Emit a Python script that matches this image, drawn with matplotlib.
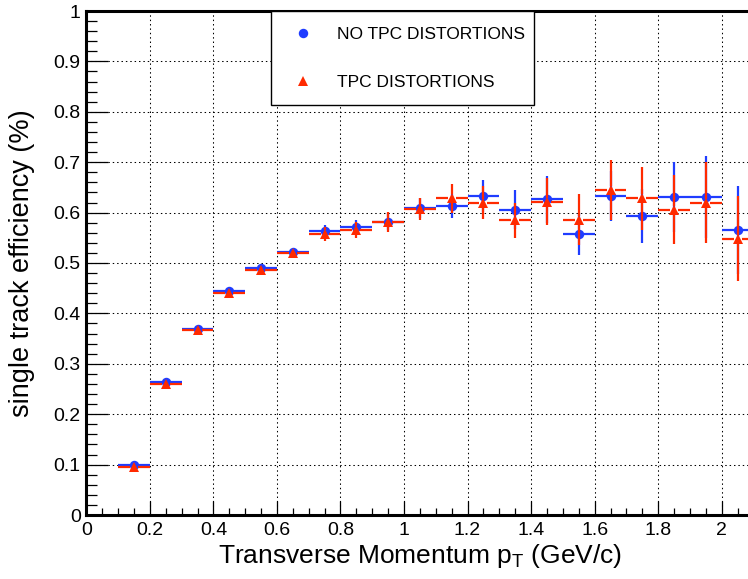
import matplotlib
matplotlib.use("Agg")
import matplotlib.pyplot as plt
from matplotlib.ticker import MultipleLocator, FuncFormatter
from matplotlib.lines import Line2D

# ---- data ----
pt_centers = [0.15, 0.25, 0.35, 0.45, 0.55, 0.65, 0.75, 0.85, 0.95, 1.05,
              1.15, 1.25, 1.35, 1.45, 1.55, 1.65, 1.75, 1.85, 1.95, 2.05]
pt_halfwidth = [0.05] * 20

eff_no_dist = [0.099, 0.263, 0.370, 0.444, 0.491, 0.522, 0.564, 0.572, 0.582, 0.609,
               0.613, 0.633, 0.606, 0.626, 0.558, 0.633, 0.593, 0.631, 0.631, 0.565]
err_no_dist = [0.003, 0.004, 0.005, 0.006, 0.007, 0.008, 0.012, 0.014, 0.017, 0.020,
               0.024, 0.032, 0.038, 0.046, 0.042, 0.050, 0.053, 0.069, 0.081, 0.087]

eff_dist = [0.096, 0.259, 0.368, 0.441, 0.486, 0.520, 0.557, 0.566, 0.581, 0.607,
            0.628, 0.620, 0.585, 0.622, 0.586, 0.645, 0.628, 0.606, 0.620, 0.548]
err_dist = [0.003, 0.004, 0.005, 0.006, 0.007, 0.008, 0.014, 0.016, 0.020, 0.022,
            0.029, 0.032, 0.035, 0.046, 0.051, 0.060, 0.063, 0.068, 0.080, 0.084]

label_no_dist = "NO TPC DISTORTIONS"
label_dist = "TPC DISTORTIONS"
xlabel = r"Transverse Momentum $\mathrm{p}_{\mathrm{T}}$ (GeV/c)"
ylabel = "single track efficiency (%)"

blue = "#1f3cff"
red = "#ff2a00"

plt.rcParams["font.family"] = ["Liberation Sans", "DejaVu Sans"]
plt.rcParams["mathtext.fontset"] = "custom"
plt.rcParams["mathtext.rm"] = "Liberation Sans"
plt.rcParams["mathtext.it"] = "Liberation Sans"

W, H = 748, 579
fig = plt.figure(figsize=(W / 100, H / 100), dpi=100)
ax_left_px, ax_bottom_px = 86.3, 515.0
ax_w_px, ax_h_px = 667.2, 504.0
ax = fig.add_axes([ax_left_px / W, 1 - ax_bottom_px / H, ax_w_px / W, ax_h_px / H])
xmin, xmax = 0.0, 2.1
ax.set_xlim(xmin, xmax)
ax.set_ylim(0, 1)

# grid
ax.grid(True, which="major", color="black", linestyle=(0, (1.4, 2.8)), linewidth=0.75, zorder=0)
ax.set_axisbelow(True)

# error bars with a gap at the marker (ROOT style)
gap_px = 4.0
gap_x = gap_px * (xmax - xmin) / ax_w_px
gap_y = gap_px * 1.0 / ax_h_px


def draw_series(x, y, ex, ey, color, marker, ms, label, z):
    for xi, yi, exi, eyi in zip(x, y, ex, ey):
        ax.hlines([yi, yi], [xi - exi, xi + gap_x], [xi - gap_x, xi + exi],
                  colors=color, linewidth=1.6, zorder=z)
        if eyi > gap_y:
            ax.vlines([xi, xi], [yi - eyi, yi + gap_y], [yi - gap_y, yi + eyi],
                      colors=color, linewidth=1.6, zorder=z)
    ax.plot(x, y, linestyle="none", marker=marker, color=color, markersize=ms,
            markeredgewidth=0, zorder=z + 0.5, label=label)


draw_series(pt_centers, eff_no_dist, pt_halfwidth, err_no_dist, blue, "o", 6.8, label_no_dist, 3)
draw_series(pt_centers, eff_dist, pt_halfwidth, err_dist, red, "^", 6.8, label_dist, 4)

# ticks
ax.xaxis.set_major_locator(MultipleLocator(0.2))
ax.xaxis.set_minor_locator(MultipleLocator(0.05))
ax.yaxis.set_major_locator(MultipleLocator(0.1))
ax.yaxis.set_minor_locator(MultipleLocator(0.02))
fmt = FuncFormatter(lambda v, p: ("%.1f" % v).rstrip("0").rstrip(".") if abs(v) > 1e-9 else "0")
ax.xaxis.set_major_formatter(fmt)
ax.yaxis.set_major_formatter(fmt)
ax.tick_params(axis="both", which="both", direction="in", top=False, right=False,
               width=0.9, color="black", labelsize=14)
ax.tick_params(axis="x", which="major", length=10, pad=5)
ax.tick_params(axis="x", which="minor", length=5)
ax.tick_params(axis="y", which="major", length=15.5, pad=4)
ax.tick_params(axis="y", which="minor", length=7.7)

for s in ["left", "bottom", "top"]:
    ax.spines[s].set_linewidth(2.2)
    ax.spines[s].set_color("black")
ax.spines["right"].set_visible(False)

# labels
ax.set_xlabel(xlabel, fontsize=19)
ax.xaxis.label.set_va("baseline")
ax.xaxis.set_label_coords(0.5, (ax_bottom_px - 563) / ax_h_px)
ax.set_ylabel(ylabel, fontsize=19.5)
ax.yaxis.set_label_coords((35 - ax_left_px) / ax_w_px, 0.5)

# legend
handles = [Line2D([], [], linestyle="none", marker="o", color=blue, markersize=6.8, markeredgewidth=0),
           Line2D([], [], linestyle="none", marker="^", color=red, markersize=6.8, markeredgewidth=0)]
leg = ax.legend(handles, [label_no_dist, label_dist],
                bbox_to_anchor=(271 / W, 1 - 105 / H, 263 / W, 94 / H),
                bbox_transform=fig.transFigure, loc="upper left", mode="expand",
                fontsize=12.5, frameon=True, fancybox=False, shadow=False,
                borderpad=0.9, labelspacing=1.89, handlelength=1.91, handletextpad=0.99,
                borderaxespad=0)
leg.get_frame().set_edgecolor("black")
leg.get_frame().set_linewidth(1.0)
leg.get_frame().set_facecolor("white")
leg.get_frame().set_alpha(1.0)
leg.set_zorder(10)

fig.savefig("out.png", dpi=100)
